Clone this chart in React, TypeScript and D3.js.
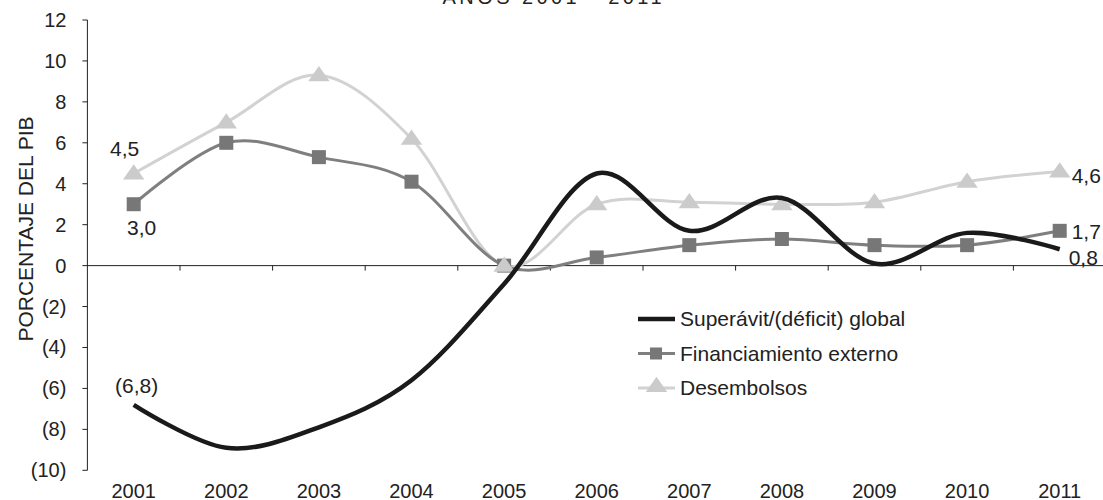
import React, { useEffect, useRef } from "react"
import * as d3 from "d3"

// data (porcentaje del PIB)
const years = ["2001", "2002", "2003", "2004", "2005", "2006", "2007", "2008", "2009", "2010", "2011"]
const superavit = [-6.8, -8.9, -7.9, -5.6, -0.9, 4.5, 1.7, 3.3, 0.1, 1.6, 0.8]
const financiamiento = [3.0, 6.0, 5.3, 4.1, 0.0, 0.4, 1.0, 1.3, 1.0, 1.0, 1.7]
const desembolsos = [4.5, 7.0, 9.3, 6.2, 0.0, 3.0, 3.1, 3.0, 3.1, 4.1, 4.6]
const yTicks = [12, 10, 8, 6, 4, 2, 0, -2, -4, -6, -8, -10]
const seriesNames = ["Superávit/(déficit) global", "Financiamiento externo", "Desembolsos"]
const title = "AÑOS 2001 - 2011"
const yLabel = "PORCENTAJE DEL PIB"

const W = 1103
const H = 500
const FONT = "'Liberation Sans', Arial, sans-serif"

const App: React.FC = () => {
	const ref = useRef<SVGSVGElement>(null)

	useEffect(() => {
		document.body.style.margin = "0"
		const svg = d3.select(ref.current)
		svg.selectAll("*").remove()

		const x = d3.scaleBand().domain(years).range([87.4, 1106]).padding(0)
		const y = d3.scaleLinear().domain([-10, 12]).range([470.3, 20])
		const cx = (i: number) => (x(years[i]) as number) + x.bandwidth() / 2
		const fmt = (v: number) => {
			const s = Math.abs(v).toFixed(1).replace(".", ",")
			return v < 0 ? `(${s})` : s
		}
		const tickFmt = (v: number) => (v < 0 ? `(${Math.abs(v)})` : `${v}`)

		// title (mostly cut off at the top)
		svg.append("text")
			.attr("x", 552)
			.attr("y", 4)
			.attr("text-anchor", "middle")
			.attr("font-size", 20)
			.attr("textLength", 219)
			.attr("fill", "#222")
			.text(title)

		// y axis
		const yAxis = svg.append("g").attr("transform", `translate(${x.range()[0]},0)`)
		yAxis.append("line")
			.attr("y1", y(12))
			.attr("y2", y(-10))
			.attr("stroke", "#222")
			.attr("stroke-width", 1)
		yAxis.selectAll(".tick")
			.data(yTicks)
			.join("line")
			.attr("x1", -5)
			.attr("x2", 0)
			.attr("y1", (d) => y(d))
			.attr("y2", (d) => y(d))
			.attr("stroke", "#222")
		yAxis.selectAll(".lbl")
			.data(yTicks)
			.join("text")
			.attr("x", -21)
			.attr("y", (d) => y(d))
			.attr("dy", "0.35em")
			.attr("text-anchor", "end")
			.attr("font-size", 20)
			.attr("fill", "#222")
			.text(tickFmt)

		svg.append("text")
			.attr("transform", `translate(33,229) rotate(-90)`)
			.attr("text-anchor", "middle")
			.attr("font-size", 21)
			.attr("fill", "#222")
			.text(yLabel)

		// x axis on zero line
		const y0 = y(0)
		svg.append("line")
			.attr("x1", x.range()[0])
			.attr("x2", W)
			.attr("y1", y0)
			.attr("y2", y0)
			.attr("stroke", "#222")
		svg.selectAll(".xtick")
			.data(years.slice(1))
			.join("line")
			.attr("x1", (d) => x(d) as number)
			.attr("x2", (d) => x(d) as number)
			.attr("y1", y0)
			.attr("y2", y0 + 5)
			.attr("stroke", "#222")
		svg.selectAll(".xlbl")
			.data(years)
			.join("text")
			.attr("x", (d, i) => cx(i))
			.attr("y", 498)
			.attr("text-anchor", "middle")
			.attr("font-size", 20)
			.attr("fill", "#222")
			.text((d) => d)

		const line = d3
			.line<number>()
			.x((d, i) => cx(i))
			.y((d) => y(d))
			.curve(d3.curveCardinal.tension(0))

		// desembolsos
		svg.append("path")
			.attr("d", line(desembolsos))
			.attr("fill", "none")
			.attr("stroke", "#d2d2d2")
			.attr("stroke-width", 3)
		// financiamiento
		svg.append("path")
			.attr("d", line(financiamiento))
			.attr("fill", "none")
			.attr("stroke", "#7f7f7f")
			.attr("stroke-width", 3)
		svg.selectAll(".sq")
			.data(financiamiento)
			.join("rect")
			.attr("x", (d, i) => cx(i) - 7)
			.attr("y", (d) => y(d) - 7)
			.attr("width", 14)
			.attr("height", 14)
			.attr("fill", "#777")
		const tri = d3.symbol().type(d3.symbolTriangle).size(150)
		svg.selectAll(".tri")
			.data(desembolsos)
			.join("path")
			.attr("d", tri)
			.attr("transform", (d, i) => `translate(${cx(i)},${y(d) + 1}) scale(1.15,0.95)`)
			.attr("fill", "#cbcbcb")
		// superavit on top
		svg.append("path")
			.attr("d", line(superavit))
			.attr("fill", "none")
			.attr("stroke", "#1a1a1a")
			.attr("stroke-width", 4.5)

		// data labels
		const labels = [
			{ v: desembolsos, i: 0, dx: -9, dy: -25, anchor: "middle" },
			{ v: financiamiento, i: 0, dx: 8, dy: 23, anchor: "middle" },
			{ v: superavit, i: 0, dx: 3, dy: -19, anchor: "middle" },
			{ v: desembolsos, i: 10, dx: 12, dy: 4, anchor: "start" },
			{ v: financiamiento, i: 10, dx: 12, dy: 1, anchor: "start" },
			{ v: superavit, i: 10, dx: 9, dy: 8, anchor: "start" },
		]
		svg.selectAll(".dlbl")
			.data(labels)
			.join("text")
			.attr("x", (d) => cx(d.i) + d.dx)
			.attr("y", (d) => y(d.v[d.i]) + d.dy)
			.attr("dy", "0.35em")
			.attr("text-anchor", (d) => d.anchor)
			.attr("font-size", 21)
			.attr("fill", "#222")
			.text((d) => fmt(d.v[d.i]))

		// legend
		const lg = svg.append("g").attr("transform", "translate(638,319)")
		const rows = lg.selectAll("g").data(seriesNames).join("g")
			.attr("transform", (d, i) => `translate(0,${i * 34.5})`)
		rows.append("line")
			.attr("x1", 0)
			.attr("x2", 37)
			.attr("stroke", (d, i) => ["#1a1a1a", "#7f7f7f", "#d2d2d2"][i])
			.attr("stroke-width", (d, i) => (i === 0 ? 4.5 : 3))
		rows.filter((d, i) => i === 1)
			.append("rect")
			.attr("x", 12)
			.attr("y", -6)
			.attr("width", 12)
			.attr("height", 12)
			.attr("fill", "#777")
		rows.filter((d, i) => i === 2)
			.append("path")
			.attr("d", tri)
			.attr("transform", "translate(18.5,-1) scale(1.15,0.95)")
			.attr("fill", "#cbcbcb")
		rows.append("text")
			.attr("x", 42)
			.attr("dy", "0.35em")
			.attr("font-size", 21)
			.attr("fill", "#222")
			.text((d) => d)
	}, [])

	return (
		<svg
			ref={ref}
			width={W}
			height={H}
			style={{ display: "block", background: "#fff", fontFamily: FONT }}
		/>
	)
}

export default App
